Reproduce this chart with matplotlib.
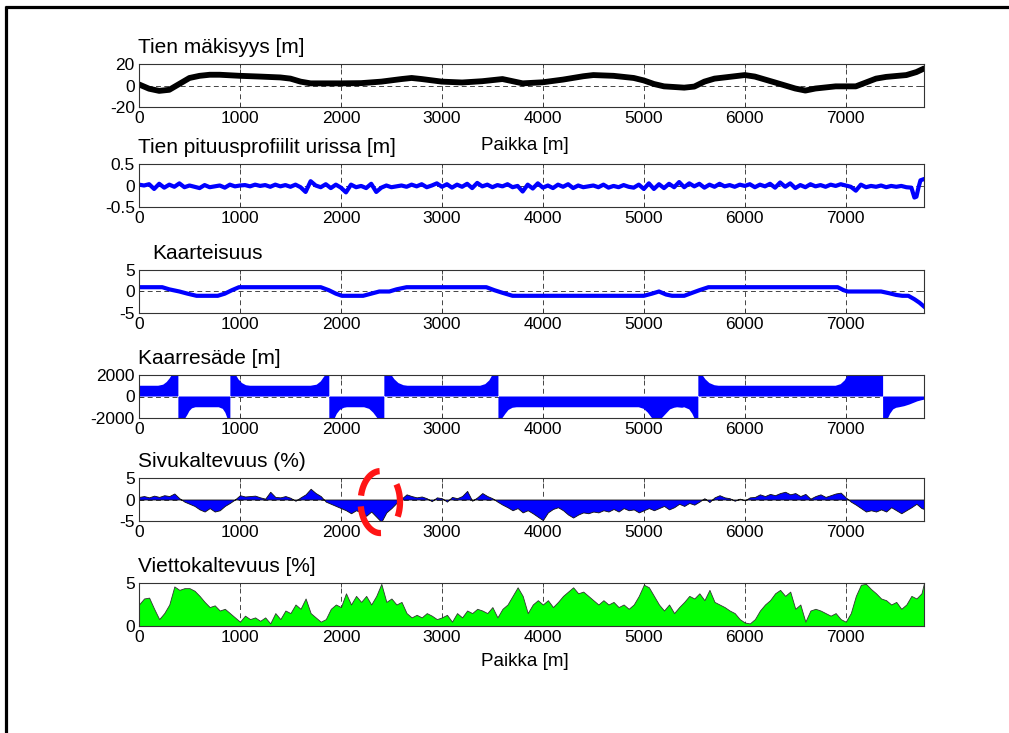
import numpy as np
import matplotlib
matplotlib.use("Agg")
import matplotlib.pyplot as plt
from matplotlib.lines import Line2D

plt.rcParams['font.family'] = ['Liberation Sans', 'DejaVu Sans']

# ---------------------------------------------------------------- data
# Tien mäkisyys: elevation [m] along the road
hill_pos = [0, 100, 200, 300, 400, 500, 600, 700, 800, 1000, 1200, 1400, 1500,
            1600, 1700, 2000, 2200, 2400, 2600, 2700, 2800, 3000, 3200, 3400,
            3600, 3700, 3800, 4000, 4200, 4400, 4500, 4700, 4900, 5000, 5100,
            5200, 5400, 5500, 5600, 5700, 5900, 6000, 6100, 6300, 6500, 6600,
            6700, 6900, 7100, 7200, 7300, 7400, 7600, 7700, 7775]
hill_val = [1.0, -3.0, -5.0, -4.0, 1.5, 7.0, 9.0, 10.0, 10.0, 9.0, 8.3, 7.5, 6.4,
            3.6, 2.0, 2.0, 2.2, 3.6, 6.0, 7.0, 6.0, 3.6, 2.8, 4.0,
            6.0, 4.0, 2.0, 3.0, 5.5, 8.6, 9.7, 9.0, 7.0, 4.7, 1.4,
            -0.8, -2.0, -1.0, 3.6, 6.4, 8.6, 9.7, 8.3, 2.8, -2.8, -4.7,
            -2.8, -0.8, -0.8, 2.8, 6.4, 8.0, 9.7, 12.5, 15.8]

# Tien pituusprofiilit urissa: rut profile [m], 50 m step, then the road end
rut_step = 50
rut_val = [0.02, 0.0, 0.03, -0.08, 0.04, -0.05, 0.02, -0.03, 0.05, -0.04, 0.0, -0.03, -0.06, 0.01, -0.04, -0.02, 0.0, -0.05, 0.02, -0.02,
           0.0, 0.01, -0.02, 0.02, -0.01, 0.01, -0.03, 0.02, -0.02, 0.01, -0.03, 0.02, -0.04, -0.15, 0.10, 0.0, -0.04, 0.03, -0.06, 0.02,
           -0.05, -0.16, 0.02, -0.04, -0.01, -0.06, 0.04, -0.15, -0.05, 0.0, -0.04, -0.02, 0.0, -0.03, 0.02, -0.02, 0.03, -0.04, 0.0, 0.05,
           -0.03, 0.03, -0.05, 0.02, -0.03, 0.04, -0.06, 0.06, -0.02, 0.02, -0.04, 0.01, -0.02, 0.03, -0.04, -0.01, -0.14, 0.02, -0.07, 0.05,
           -0.05, 0.0, -0.06, 0.02, -0.03, 0.03, -0.06, 0.0, -0.04, -0.02, 0.0, -0.04, 0.02, -0.05, -0.01, -0.04, 0.01, -0.03, -0.05, 0.02,
           -0.08, 0.05, -0.08, 0.03, -0.06, 0.04, -0.04, 0.08, -0.04, 0.05, -0.02, 0.04, -0.05, 0.02, -0.03, 0.04, -0.02, 0.01, -0.03, 0.02,
           -0.01, 0.03, -0.04, 0.02, -0.02, 0.04, -0.05, 0.07, -0.03, 0.05, -0.06, 0.01, -0.04, 0.03, -0.02, 0.01, -0.03, 0.02, -0.01, 0.03,
           0.0, -0.03, -0.12, 0.02, -0.04, -0.01, -0.03, 0.0, -0.04, -0.01, -0.03, -0.01, -0.04, -0.05]
rut_tail_pos = [7680, 7700, 7720, 7740, 7775]
rut_tail_val = [-0.28, -0.26, -0.05, 0.12, 0.15]

# Kaarteisuus: curvature
curv_pos = [0, 230, 300, 400, 480, 570, 780, 850, 920, 990, 1800, 1880, 1950, 2010,
            2220, 2300, 2380, 2480, 2550, 2650, 3440, 3520, 3600, 3700, 5000, 5080,
            5150, 5220, 5280, 5400, 5480, 5550, 5640, 6920, 6980, 7020, 7350, 7430,
            7500, 7560, 7620, 7680, 7730, 7775]
curv_val = [1, 1, 0.5, 0, -0.5, -1, -1, -0.5, 0.3, 1, 1, 0.3, -0.5, -1,
            -1, -0.5, 0, 0, 0.5, 1, 1, 0.3, -0.3, -1, -1, -0.5,
            0, -0.7, -1, -1, -0.3, 0.3, 1, 1, 0.3, 0, 0, -0.4,
            -0.8, -1.0, -1.0, -1.8, -2.6, -3.5]

# Kaarresäde: curve radius [m] (shown within ±2000)
rad_pos = [0, 190, 240, 275, 305, 325, 390,
           390, 460, 480, 500, 525, 560, 790, 830, 855, 875, 905,
           905, 960, 985, 1020, 1060, 1100, 1700, 1760, 1800, 1830, 1845, 1885,
           1885, 1940, 1960, 1990, 2030, 2060, 2230, 2280, 2320, 2360, 2430,
           2430, 2500, 2530, 2570, 2620, 2660, 3380, 3430, 3470, 3500, 3560,
           3560, 3600, 3630, 3660, 3700, 3740, 4950, 5000, 5040, 5080, 5180, 5220,
           5260, 5300, 5330, 5380, 5400, 5450, 5480, 5500, 5540,
           5540, 5580, 5610, 5650, 5700, 5740, 6900, 6950, 6990, 7020, 7370,
           7370, 7420, 7440, 7470, 7500, 7530, 7580, 7630, 7670, 7710, 7750, 7775]
rad_val = [1000, 1000, 1100, 1350, 1700, 2000, 2000,
           -2000, -2000, -1700, -1350, -1100, -1000, -1000, -1150, -1500, -2000, -2000,
           2000, 2000, 1600, 1250, 1050, 1000, 1000, 1100, 1400, 1800, 2000, 2000,
           -2000, -2000, -1600, -1250, -1050, -1000, -1000, -1150, -1500, -2000, -2000,
           2000, 2000, 1600, 1250, 1050, 1000, 1000, 1150, 1500, 2000, 2000,
           -2000, -2000, -1600, -1250, -1050, -1000, -1000, -1150, -1500, -2000, -2000, -1600,
           -1200, -1050, -1000, -1050, -1000, -1200, -1600, -2000, -2000,
           2000, 2000, 1600, 1250, 1050, 1000, 1000, 1150, 1500, 2000, 2000,
           -2000, -2000, -1600, -1200, -1050, -1000, -900, -750, -600, -450, -350, -300]

# Sivukaltevuus: cross slope (%), 50 m step
cross_step = 50
cross_val = [0.6, 0.8, 0.5, 0.9, 0.6, 1.0, 0.8, 1.4, 0.3, -0.5, -1.0, -1.5, -2.3, -2.8, -2.0, -2.8, -2.5, -1.5, -0.8, 0.0,
             1.0, 0.7, 0.8, 0.9, 0.5, 0.2, 1.8, 0.6, 0.5, 0.8, 0.4, -0.3, 0.5, 1.2, 2.5, 1.5, 0.8, -0.5, -1.0, -1.5,
             -2.0, -2.5, -3.2, -2.5, -3.0, -3.8, -2.8, -4.0, -5.2, -3.0, -2.0, -0.8, 0.2, 1.2, 0.8, 0.5, 0.7, 0.3, -0.4, 0.5,
             0.3, -0.5, 0.6, 0.3, 0.8, 2.0, -0.3, 0.5, 1.5, 0.8, 0.3, -0.5, -1.2, -1.8, -2.5, -2.0, -3.0, -2.5, -3.2, -4.0,
             -4.8, -3.0, -2.2, -1.8, -2.5, -3.5, -4.2, -3.5, -3.0, -3.2, -2.8, -3.0, -2.5, -2.8, -2.2, -2.8, -2.0, -2.5, -2.3, -3.0,
             -2.5, -2.0, -2.5, -2.0, -1.5, -2.3, -1.8, -1.0, -1.5, -0.8, -1.2, -0.5, 0.3, -0.6, 0.5, 1.0, 0.5, 0.3, -0.3, 0.2,
             -0.2, 0.5, 0.6, 1.2, 0.8, 1.3, 1.0, 1.5, 1.8, 1.2, 1.5, 0.8, 1.3, 0.2, 0.8, 1.2, 0.6, 1.0, 1.4, 1.6,
             0.5, -0.5, -1.2, -2.0, -2.8, -2.5, -2.8, -2.3, -2.8, -1.8, -2.5, -3.2, -2.5, -1.8, -1.0, -2.0]
cross_tail_pos = [7775]
cross_tail_val = [-2.2]

# Viettokaltevuus: fall slope [%], 50 m step
fall_step = 50
fall_val = [2.5, 3.2, 3.3, 2.0, 0.8, 1.5, 2.5, 4.6, 4.2, 4.4, 4.4, 4.1, 3.5, 2.8, 2.2, 2.4, 1.8, 2.0, 1.5, 1.0,
            0.5, 1.2, 0.8, 1.0, 0.6, 1.0, 0.3, 1.5, 0.8, 1.8, 1.5, 2.5, 2.0, 3.2, 1.5, 1.0, 0.5, 0.8, 2.0, 2.5,
            2.2, 3.8, 2.5, 3.5, 2.8, 3.5, 2.5, 3.5, 4.9, 2.8, 3.2, 2.5, 2.8, 1.5, 1.0, 1.3, 1.0, 1.5, 1.2, 0.8,
            1.0, 1.3, 0.5, 1.5, 1.0, 1.8, 1.5, 2.0, 1.8, 1.5, 2.2, 1.0, 2.0, 2.5, 3.5, 4.5, 3.5, 1.5, 2.5, 3.0,
            2.5, 3.0, 2.2, 2.8, 3.5, 4.0, 4.5, 3.8, 4.0, 3.5, 3.0, 2.5, 3.0, 2.5, 2.8, 2.2, 2.5, 2.0, 2.5, 3.5,
            4.8, 4.5, 3.5, 2.5, 1.8, 2.5, 1.5, 2.2, 2.8, 3.5, 3.2, 3.8, 3.0, 4.2, 2.8, 2.5, 2.2, 1.8, 1.5, 0.8,
            0.4, 0.3, 0.8, 1.8, 2.5, 3.0, 3.8, 4.2, 3.5, 4.0, 2.0, 2.5, 0.5, 1.8, 2.0, 1.8, 1.5, 1.2, 1.5, 0.8,
            0.5, 1.5, 3.5, 4.8, 4.9, 4.3, 3.8, 3.2, 3.0, 2.5, 2.8, 2.0, 2.5, 3.5, 3.2, 3.8]
fall_tail_pos = [7775]
fall_tail_val = [5.0]

x_ticks = [0, 1000, 2000, 3000, 4000, 5000, 6000, 7000]
x_max = 7775

titles = ["Tien mäkisyys [m]", "Tien pituusprofiilit urissa [m]", "Kaarteisuus",
          "Kaarresäde [m]", "Sivukaltevuus (%)", "Viettokaltevuus [%]"]
y_ticks = [[-20, 0, 20], [-0.5, 0, 0.5], [-5, 0, 5], [-2000, 0, 2000], [-5, 0, 5], [0, 5]]
y_ticklabels = [["-20", "0", "20"], ["-0.5", "0", "0.5"], ["-5", "0", "5"],
                ["-2000", "0", "2000"], ["-5", "0", "5"], ["0", "5"]]
x_label = "Paikka [m]"

# ---------------------------------------------------------------- layout
W, H = 1009, 733
fig = plt.figure(figsize=(W / 100, H / 100), dpi=100)
fig.patch.set_facecolor('white')

rows = [(64, 107), (164, 207), (270, 313), (375, 418), (478, 521), (583, 626)]
left_px, right_px = 139, 924

axes = []
for (top, bot) in rows:
    ax = fig.add_axes([left_px / W, 1 - bot / H, (right_px - left_px) / W, (bot - top) / H])
    axes.append(ax)

grid_style = dict(color='#444444', linestyle=(0, (5, 3.5)), linewidth=0.7)

for i, ax in enumerate(axes):
    ax.set_xlim(0, x_max)
    ax.set_ylim(y_ticks[i][0], y_ticks[i][-1])
    ax.set_xticks(x_ticks)
    ax.set_xticklabels([str(t) for t in x_ticks])
    ax.set_yticks(y_ticks[i])
    ax.set_yticklabels(y_ticklabels[i])
    ax.tick_params(direction='in', length=3, width=0.6, labelsize=12.5,
                   top=True, right=True, pad=3, color='#333333')
    ax.grid(True, **grid_style)
    ax.set_axisbelow(True)
    for sp in ax.spines.values():
        sp.set_color('#333333')
        sp.set_linewidth(0.8)
    xoff = 13 / W if i == 2 else -1 / W
    fig.text(left_px / W + xoff, 1 - (rows[i][0] - 7) / H, titles[i],
             fontsize=15, ha='left', va='bottom')

# 1: elevation
axes[0].plot(hill_pos, hill_val, color='black', linewidth=4.2, solid_capstyle='round')

# 2: rut profile
rut_pos = np.concatenate([np.arange(len(rut_val)) * rut_step, rut_tail_pos])
rut_all = np.concatenate([rut_val, rut_tail_val])
axes[1].plot(rut_pos, rut_all, color='#0000ff', linewidth=3.0)

# 3: curvature
axes[2].plot(curv_pos, curv_val, color='#0000ff', linewidth=3.0)

# 4: curve radius
axes[3].fill_between(rad_pos, 0, rad_val, facecolor='#0000ff', edgecolor='none', linewidth=0)

# 5: cross slope
cross_pos = np.concatenate([np.arange(len(cross_val)) * cross_step, cross_tail_pos])
cross_all = np.concatenate([cross_val, cross_tail_val])
axes[4].fill_between(cross_pos, 0, cross_all, facecolor='#0000ff', edgecolor='#111111', linewidth=0.6)

# dashed red ring marking the section near 2400 m
ring_cx, ring_cy, ring_a, ring_b = 2390, -0.6, 195, 7.2
for t0, t1 in [(92, 168), (188, 272), (-28, 35)]:
    t = np.radians(np.linspace(t0, t1, 60))
    axes[4].plot(ring_cx + ring_a * np.cos(t), ring_cy + ring_b * np.sin(t),
                 color='#ff1515', linewidth=4.5, solid_capstyle='butt',
                 clip_on=False, zorder=10)

# 6: fall slope
fall_pos = np.concatenate([np.arange(len(fall_val)) * fall_step, fall_tail_pos])
fall_all = np.concatenate([fall_val, fall_tail_val])
axes[5].fill_between(fall_pos, 0, fall_all, facecolor='#00ff00', edgecolor='#333333', linewidth=0.6)

for idx, ypx in [(0, 145), (5, 662)]:
    ax = axes[idx]
    top, bot = rows[idx]
    ax.set_xlabel(x_label, fontsize=13.5)
    ax.xaxis.label.set_va('center')
    ax.xaxis.set_label_coords(0.492, -(ypx - bot) / (bot - top))

# page frame (left and top edges)
fig.add_artist(Line2D([6 / W, 6 / W], [0, 1 - 6 / H], color='black', linewidth=2.3,
                      transform=fig.transFigure, solid_capstyle='butt'))
fig.add_artist(Line2D([5 / W, 1], [1 - 7 / H, 1 - 7 / H], color='black', linewidth=2.3,
                      transform=fig.transFigure, solid_capstyle='butt'))

fig.savefig('out.png', dpi=100, facecolor='white')
